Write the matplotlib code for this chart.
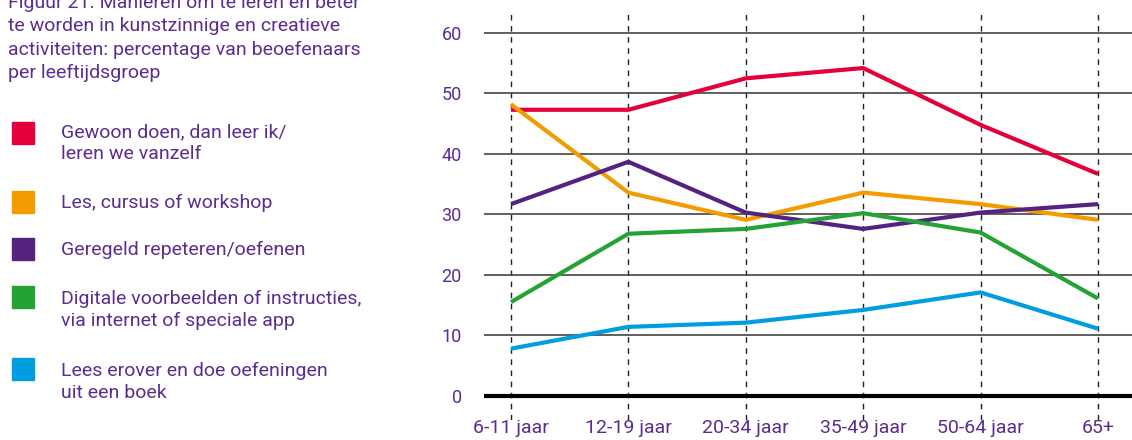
import matplotlib.pyplot as plt
from matplotlib.patches import Rectangle

groups = ['6-11 jaar', '12-19 jaar', '20-34 jaar', '35-49 jaar', '50-64 jaar', '65+']
gewoon_doen = [47.3, 47.3, 52.5, 54.2, 44.8, 36.7]
les_cursus = [48.2, 33.6, 29.1, 33.6, 31.7, 29.1]
repeteren = [31.7, 38.7, 30.3, 27.6, 30.3, 31.7]
digitaal = [15.5, 26.8, 27.6, 30.2, 27.0, 16.1]
boek = [7.8, 11.4, 12.1, 14.2, 17.1, 11.1]

labels = ['Gewoon doen, dan leer ik/\nleren we vanzelf',
          'Les, cursus of workshop',
          'Geregeld repeteren/oefenen',
          'Digitale voorbeelden of instructies,\nvia internet of speciale app',
          'Lees erover en doe oefeningen\nuit een boek']
colors = ['#e4003a', '#f39c00', '#55237f', '#24a335', '#009ee0']
series = [gewoon_doen, les_cursus, repeteren, digitaal, boek]

title = ('Figuur 21. Manieren om te leren en beter\n'
         'te worden in kunstzinnige en creatieve\n'
         'activiteiten: percentage van beoefenaars\n'
         'per leeftijdsgroep')

txt_color = '#5b2d8e'
plt.rcParams['font.family'] = ['Roboto', 'DejaVu Sans']

fig = plt.figure(figsize=(11.32, 4.40), dpi=100)
ax = fig.add_axes([484 / 1132, 20 / 440, 1 - 484 / 1132, 410 / 440])

x = list(range(len(groups)))
for xi in x:
    ax.axvline(xi, color='#222222', lw=1.0, ls=(0, (4, 4)), zorder=1)
for yv in [10, 20, 30, 40, 50, 60]:
    ax.axhline(yv, color='#444444', lw=1.2, zorder=1)
ax.axhline(0, color='black', lw=3, zorder=2)

for s, c in zip(series, colors):
    ax.plot(x, s, color=c, lw=3, zorder=3, solid_capstyle='butt')

ax.set_xlim(-0.23, 5.29)
ax.set_ylim(-4, 63.8)
for sp in ax.spines.values():
    sp.set_visible(False)
ax.set_yticks([0, 10, 20, 30, 40, 50, 60])
ax.set_xticks(x)
ax.set_xticklabels(groups)
ax.tick_params(length=0, colors=txt_color, labelsize=14)
ax.tick_params(axis='y', pad=16, labelsize=13)
ax.tick_params(axis='x', pad=-1)
ax.patch.set_alpha(0)

# titel en legenda links
fig.text(8 / 1132, 1 - 38 / 440, title, color=txt_color, fontsize=14,
         va='center', ha='left', linespacing=1.36)

square_y = [133, 202, 249, 297, 369]
text_y = [143, 203, 250, 310, 382]
for c, lab, sy, ty in zip(colors, labels, square_y, text_y):
    fig.patches.append(Rectangle((12 / 1132, 1 - (sy + 11) / 440), 22 / 1132, 22 / 440,
                                 transform=fig.transFigure, color=c))
    fig.text(61 / 1132, 1 - ty / 440, lab, color=txt_color, fontsize=14,
             va='center', ha='left', linespacing=1.25)

fig.savefig('out.png', dpi=100)
